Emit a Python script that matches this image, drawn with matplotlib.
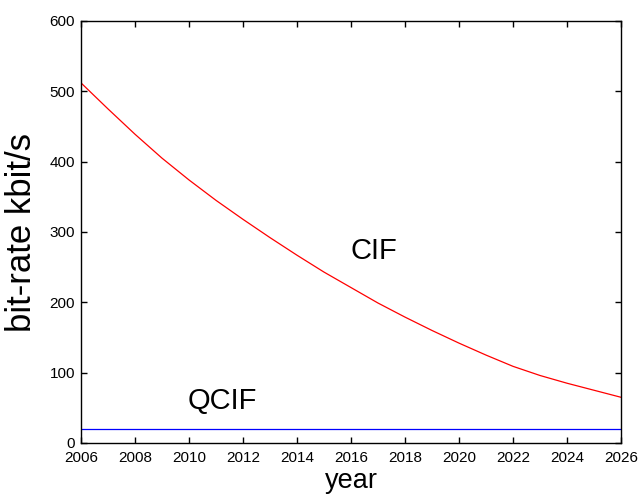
import matplotlib
matplotlib.use("Agg")
import matplotlib.pyplot as plt

plt.rcParams['font.family'] = ['Liberation Sans', 'DejaVu Sans']

years = [2006, 2007, 2008, 2009, 2010, 2011, 2012, 2013, 2014, 2015, 2016,
         2017, 2018, 2019, 2020, 2021, 2022, 2023, 2024, 2025, 2026]
cif = [512, 475, 439, 405, 374, 345, 318, 292, 267, 243, 221,
       199, 179, 160, 142, 125, 109, 96, 85, 75, 65]
qcif = [20] * len(years)

x_ticks = list(range(2006, 2027, 2))
y_ticks = [0, 100, 200, 300, 400, 500, 600]

fig = plt.figure(figsize=(6.38, 4.95), dpi=100)
ax = fig.add_axes([81/638, 52/495, 540/638, 422/495])

ax.plot(years, cif, color='#ff0000', lw=0.9)
ax.plot(years, qcif, color='#0000ff', lw=0.9)

ax.set_xlim(2006, 2026)
ax.set_ylim(0, 600)
ax.set_xticks(x_ticks)
ax.set_yticks(y_ticks)
ax.tick_params(direction='in', length=4.3, width=1.0, top=True, right=True,
               labelsize=11, colors='black')
ax.tick_params(axis='x', pad=6.0)
ax.tick_params(axis='y', pad=4.3)
for s in ax.spines.values():
    s.set_linewidth(1.0)
    s.set_color('black')

ax.text(2016.85, 272.7, 'CIF', fontsize=21, ha='center', va='center')
ax.text(2011.24, 59.3, 'QCIF', fontsize=21, ha='center', va='center')

ax.set_xlabel('year', fontsize=19.5)
ax.xaxis.set_label_coords(0.5, -0.1066)
ax.xaxis.label.set_va('baseline')
ax.set_ylabel('bit-rate kbit/s', fontsize=25)
ax.yaxis.set_label_coords(-0.08, 0.5)

fig.savefig('out.png', dpi=100, facecolor='white')
